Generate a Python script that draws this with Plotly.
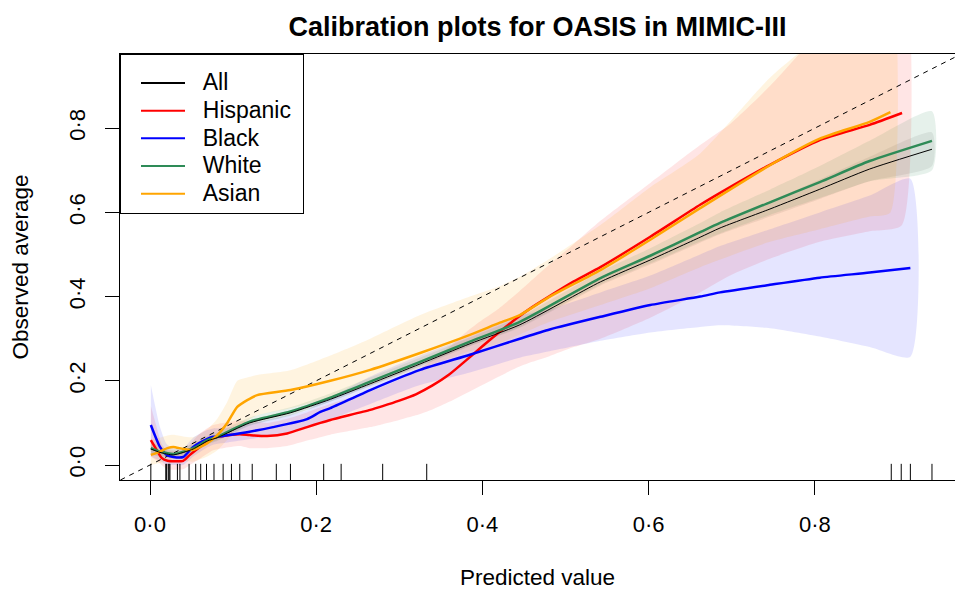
import plotly.graph_objects as go

# ---------------- data ----------------
series_names = ["All", "Hispanic", "Black", "White", "Asian"]

all_x = [0.001, 0.012, 0.028, 0.052, 0.069, 0.081, 0.120, 0.169, 0.217, 0.265, 0.325,
         0.385, 0.445, 0.542, 0.602, 0.662, 0.686, 0.746, 0.806, 0.866, 0.941]
all_y = [0.038, 0.030, 0.024, 0.038, 0.057, 0.065, 0.100, 0.124, 0.156, 0.193, 0.240,
         0.288, 0.333, 0.435, 0.487, 0.541, 0.563, 0.608, 0.655, 0.703, 0.750]
all_lo = [0.030, 0.024, 0.019, 0.032, 0.051, 0.059, 0.094, 0.118, 0.150, 0.187, 0.234,
          0.282, 0.326, 0.426, 0.476, 0.528, 0.548, 0.590, 0.632, 0.674, 0.710]
all_hi = [0.046, 0.036, 0.029, 0.044, 0.063, 0.071, 0.106, 0.130, 0.162, 0.199, 0.246,
          0.294, 0.340, 0.444, 0.498, 0.554, 0.578, 0.626, 0.678, 0.732, 0.790]

his_x = [0.001, 0.008, 0.014, 0.021, 0.040, 0.048, 0.060, 0.076, 0.088, 0.108, 0.120,
         0.141, 0.165, 0.189, 0.205, 0.217, 0.265, 0.280, 0.300, 0.320, 0.340, 0.360,
         0.380, 0.400, 0.420, 0.440, 0.460, 0.480, 0.510, 0.542, 0.602, 0.662, 0.698,
         0.746, 0.806, 0.866, 0.905]
his_y = [0.059, 0.036, 0.017, 0.010, 0.010, 0.024, 0.043, 0.064, 0.069, 0.073, 0.071,
         0.069, 0.075, 0.090, 0.100, 0.107, 0.131, 0.140, 0.153, 0.168, 0.189, 0.215,
         0.248, 0.282, 0.315, 0.347, 0.375, 0.400, 0.436, 0.470, 0.542, 0.618, 0.660,
         0.713, 0.772, 0.808, 0.836]
his_lo = [0.020, 0.010, 0.000, -0.010, -0.010, 0.000, 0.015, 0.035, 0.040, 0.045, 0.040,
          0.040, 0.045, 0.058, 0.066, 0.072, 0.090, 0.097, 0.107, 0.118, 0.132, 0.150,
          0.170, 0.190, 0.210, 0.230, 0.245, 0.258, 0.280, 0.300, 0.350, 0.410, 0.450,
          0.490, 0.530, 0.555, 0.570]
his_hi = [0.140, 0.090, 0.050, 0.035, 0.035, 0.050, 0.075, 0.095, 0.100, 0.105, 0.105,
          0.100, 0.110, 0.125, 0.137, 0.145, 0.175, 0.186, 0.203, 0.222, 0.250, 0.280,
          0.315, 0.345, 0.372, 0.405, 0.440, 0.475, 0.525, 0.580, 0.670, 0.760, 0.810,
          0.900, 1.030, 1.150, 1.220]

blk_x = [0.001, 0.012, 0.020, 0.028, 0.040, 0.052, 0.069, 0.076, 0.088, 0.105, 0.148,
         0.189, 0.205, 0.217, 0.265, 0.325, 0.385, 0.445, 0.481, 0.542, 0.602, 0.662,
         0.686, 0.746, 0.806, 0.866, 0.915]
blk_y = [0.095, 0.043, 0.024, 0.019, 0.019, 0.043, 0.062, 0.067, 0.069, 0.074, 0.090,
         0.109, 0.126, 0.135, 0.178, 0.226, 0.262, 0.300, 0.322, 0.352, 0.380, 0.400,
         0.410, 0.428, 0.445, 0.457, 0.468]
blk_lo = [0.020, 0.010, 0.000, 0.000, 0.000, 0.020, 0.042, 0.048, 0.052, 0.057, 0.070,
          0.088, 0.100, 0.108, 0.145, 0.190, 0.220, 0.255, 0.270, 0.295, 0.315, 0.328,
          0.332, 0.325, 0.305, 0.280, 0.257]
blk_hi = [0.190, 0.090, 0.050, 0.040, 0.040, 0.065, 0.083, 0.087, 0.088, 0.092, 0.110,
          0.130, 0.150, 0.160, 0.210, 0.260, 0.305, 0.355, 0.370, 0.410, 0.450, 0.500,
          0.520, 0.560, 0.600, 0.640, 0.680]

wht_x = [0.001, 0.012, 0.028, 0.052, 0.069, 0.081, 0.120, 0.169, 0.217, 0.265, 0.325,
         0.385, 0.445, 0.542, 0.602, 0.662, 0.686, 0.746, 0.806, 0.866, 0.941]
wht_y = [0.040, 0.032, 0.026, 0.040, 0.059, 0.067, 0.103, 0.127, 0.160, 0.198, 0.245,
         0.293, 0.340, 0.444, 0.497, 0.553, 0.575, 0.624, 0.672, 0.722, 0.770]
wht_lo = [0.025, 0.020, 0.016, 0.030, 0.049, 0.057, 0.093, 0.117, 0.150, 0.188, 0.235,
          0.283, 0.328, 0.429, 0.479, 0.531, 0.550, 0.594, 0.634, 0.674, 0.700]
wht_hi = [0.055, 0.044, 0.036, 0.050, 0.069, 0.077, 0.113, 0.137, 0.170, 0.208, 0.255,
          0.303, 0.352, 0.459, 0.515, 0.575, 0.600, 0.654, 0.710, 0.770, 0.840]

asn_x = [0.001, 0.012, 0.021, 0.028, 0.040, 0.052, 0.069, 0.081, 0.093, 0.105, 0.117,
         0.129, 0.169, 0.217, 0.265, 0.325, 0.385, 0.421, 0.445, 0.481, 0.542, 0.602,
         0.662, 0.746, 0.806, 0.866, 0.891]
asn_y = [0.024, 0.032, 0.040, 0.043, 0.038, 0.036, 0.052, 0.071, 0.100, 0.138, 0.154,
         0.166, 0.178, 0.200, 0.226, 0.266, 0.309, 0.338, 0.356, 0.400, 0.463, 0.535,
         0.610, 0.712, 0.775, 0.815, 0.838]
asn_lo = [0.000, 0.005, 0.010, 0.015, 0.010, 0.008, 0.020, 0.035, 0.060, 0.090, 0.105,
          0.118, 0.135, 0.160, 0.190, 0.230, 0.270, 0.290, 0.310, 0.340, 0.380, 0.420,
          0.470, 0.530, 0.560, 0.590, 0.600]
asn_hi = [0.060, 0.065, 0.070, 0.072, 0.068, 0.066, 0.085, 0.110, 0.150, 0.200, 0.208,
          0.214, 0.225, 0.260, 0.300, 0.356, 0.400, 0.425, 0.447, 0.490, 0.570, 0.660,
          0.740, 0.920, 1.020, 1.120, 1.160]

rug_x = [0.001, 0.019, 0.020, 0.022, 0.023, 0.024, 0.033, 0.036, 0.047, 0.055, 0.061,
         0.068, 0.077, 0.088, 0.098, 0.108, 0.123, 0.152, 0.169, 0.209, 0.230, 0.280,
         0.333, 0.892, 0.904, 0.915, 0.941]

diag = [-0.1, 1.1]

tick_vals = [0.0, 0.2, 0.4, 0.6, 0.8]
tick_text = ["0·0", "0·2", "0·4", "0·6", "0·8"]

# ---------------- style ----------------
line_colors = {"All": "#000000", "Hispanic": "#FF0000", "Black": "#0000FF",
               "White": "#2E8B57", "Asian": "#FFA500"}
band_colors = {"All": "rgba(0,0,0,0.07)", "Hispanic": "rgba(255,0,0,0.10)",
               "Black": "rgba(0,0,255,0.10)", "White": "rgba(46,139,87,0.12)",
               "Asian": "rgba(255,165,0,0.12)"}
line_widths = {"All": 1.0, "Hispanic": 2.5, "Black": 2.5, "White": 2.5, "Asian": 2.5}

data = {
    "All": (all_x, all_y, all_lo, all_hi),
    "Hispanic": (his_x, his_y, his_lo, his_hi),
    "Black": (blk_x, blk_y, blk_lo, blk_hi),
    "White": (wht_x, wht_y, wht_lo, wht_hi),
    "Asian": (asn_x, asn_y, asn_lo, asn_hi),
}

FONT = "Liberation Sans, Arial, sans-serif"
fig = go.Figure()

# confidence bands
for name in ["All", "Hispanic", "Black", "White", "Asian"]:
    xs, ys, lo, hi = data[name]
    fig.add_trace(go.Scatter(
        x=list(xs) + list(xs)[::-1], y=list(lo) + list(hi)[::-1],
        fill="toself", fillcolor=band_colors[name],
        line=dict(width=0, shape="spline", smoothing=0.6),
        mode="lines", hoverinfo="skip", showlegend=False))

# reference diagonal
fig.add_trace(go.Scatter(x=diag, y=diag, mode="lines", showlegend=False,
                         line=dict(color="black", width=1, dash="5px,5px")))

# calibration curves
for name in ["Hispanic", "Black", "White", "Asian", "All"]:
    xs, ys, lo, hi = data[name]
    fig.add_trace(go.Scatter(
        x=xs, y=ys, mode="lines", name=name, showlegend=False,
        line=dict(color=line_colors[name], width=line_widths[name],
                  shape="spline", smoothing=0.6)))

# legend entries (larger text than the legend row-height font)
for i, name in enumerate(series_names):
    label = '<span style="font-size:23px">\u00a0\u00a0' + name + '\u00a0</span>'
    fig.add_trace(go.Scatter(
        x=[None], y=[None], mode="lines", name=label,
        legendrank=i, line=dict(color=line_colors[name], width=2)))

# rug
fig.add_trace(go.Scatter(
    x=rug_x, y=[-0.0205] * len(rug_x), mode="markers", showlegend=False,
    marker=dict(symbol="line-ns", size=14, line=dict(color="black", width=1))))

fig.update_layout(
    width=955, height=590,
    margin=dict(l=120, r=0, t=54, b=110),
    paper_bgcolor="white", plot_bgcolor="white",
    font=dict(family=FONT, size=22, color="black"),
    title=dict(text="<b>Calibration plots for OASIS in MIMIC-III</b>",
               x=0.5, xref="paper", y=1 - 27 / 590, yref="container",
               xanchor="center", yanchor="middle",
               font=dict(family=FONT, size=27, color="black")),
    showlegend=True,
    legend=dict(x=0, y=1, xanchor="left", yanchor="top",
                bordercolor="black", borderwidth=1, bgcolor="white",
                font=dict(family=FONT, size=19, color="black"),
                title=dict(text="\u00a0", font=dict(size=7)),
                itemwidth=44, indentation=15, traceorder="normal"),
)

fig.update_xaxes(
    range=[-0.0361, 0.9687], showgrid=False, zeroline=False,
    showline=True, linecolor="black", linewidth=1, mirror=True,
    ticks="outside", ticklen=14, tickwidth=1, tickcolor="black",
    tickvals=tick_vals, ticktext=tick_text, ticklabelstandoff=11,
    tickfont=dict(family=FONT, size=22),
    title=dict(text="Predicted value", standoff=34, font=dict(family=FONT, size=22.5)))
fig.update_yaxes(
    range=[-0.0356, 0.9762], showgrid=False, zeroline=False,
    showline=True, linecolor="black", linewidth=1, mirror=True,
    ticks="outside", ticklen=14, tickwidth=1, tickcolor="black",
    tickvals=tick_vals, ticktext=tick_text, tickangle=-90, ticklabelstandoff=11,
    tickfont=dict(family=FONT, size=22),
    title=dict(text="Observed average", standoff=30, font=dict(family=FONT, size=22.5)))

fig.write_html("out.html")
